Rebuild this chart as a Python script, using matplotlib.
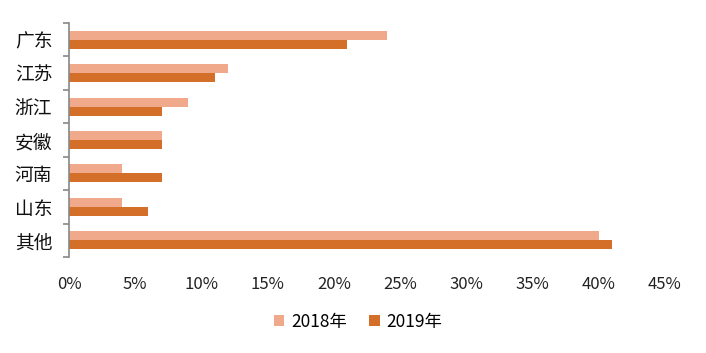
import matplotlib
matplotlib.use("Agg")
import matplotlib.pyplot as plt
import numpy as np
from matplotlib.ticker import FuncFormatter, MultipleLocator

plt.rcParams['font.family'] = ['Noto Sans CJK SC', 'DejaVu Sans']

categories = ['广东', '江苏', '浙江', '安徽', '河南', '山东', '其他']
values_2018 = [24, 12, 9, 7, 4, 4, 40]
values_2019 = [21, 11, 7, 7, 7, 6, 41]
series_names = ['2018年', '2019年']
colors = ['#F1A98C', '#D36F29']

fig = plt.figure(figsize=(7.06, 3.53), dpi=100)
ax = fig.add_axes([69/706, 1-257/353, (665-69)/706, (257-23)/353])

y = np.arange(len(categories))
h = 0.27
ax.barh(y - h/2, values_2018, height=h, color=colors[0], label=series_names[0])
ax.barh(y + h/2, values_2019, height=h, color=colors[1], label=series_names[1])

ax.set_ylim(len(categories) - 0.5, -0.5)
ax.set_xlim(0, 45)
ax.xaxis.set_major_locator(MultipleLocator(5))
ax.xaxis.set_major_formatter(FuncFormatter(lambda v, p: f'{v:.0f}%'))

ax.set_yticks(y)
ax.set_yticklabels(categories, fontsize=13.5, color='#111111')
ax.set_yticks(np.arange(len(categories) + 1) - 0.5, minor=True)
ax.tick_params(axis='y', which='major', length=0, pad=12)
ax.tick_params(axis='y', which='minor', length=4, width=1.2, color='#888888', direction='out')
ax.tick_params(axis='x', length=0, pad=14, labelsize=12, labelcolor='#222222')

for s in ['top', 'right', 'bottom']:
    ax.spines[s].set_visible(False)
ax.spines['left'].set_color('#888888')
ax.spines['left'].set_linewidth(1.2)

fig.legend(handles=ax.patches[:1] + ax.patches[len(categories):len(categories)+1],
           labels=series_names, loc='center', bbox_to_anchor=(358/706, 1-322/353),
           ncol=2, frameon=False, fontsize=12.5, handlelength=0.6, handleheight=0.6,
           handletextpad=0.4, columnspacing=1.3)

fig.savefig('out.png', dpi=100)
